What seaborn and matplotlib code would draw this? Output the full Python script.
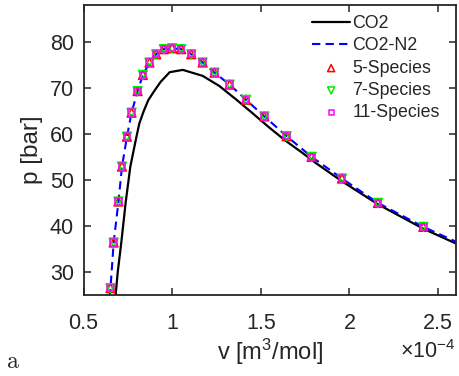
import matplotlib
matplotlib.use("Agg")
import matplotlib.pyplot as plt
import seaborn as sns
import pandas as pd

# ---- data (v in units of 1e-4 m^3/mol, p in bar) ----
v_co2 = [0.681, 0.693, 0.713, 0.738, 0.764, 0.798, 0.815, 0.839, 0.865, 0.897, 0.935,
         0.986, 1.060, 1.172, 1.266, 1.360, 1.453, 1.547, 1.640, 1.734, 1.809,
         1.958, 2.161, 2.417, 2.600]
p_co2 = [25.0, 30.0, 36.4, 45.2, 52.9, 59.3, 62.3, 64.9, 67.3, 69.2, 71.3,
         73.4, 73.9, 72.6, 70.4, 67.5, 64.5, 61.4, 58.5, 55.9, 53.7,
         49.7, 44.7, 39.4, 36.2]

v_mix = [0.646, 0.652, 0.670, 0.697, 0.717, 0.745, 0.771, 0.805, 0.835, 0.872, 0.910,
         0.953, 1.000, 1.051, 1.108, 1.172, 1.239, 1.324, 1.417, 1.520, 1.646,
         1.787, 1.958, 2.161, 2.417, 2.600]
p_mix = [24.5, 26.5, 36.4, 45.3, 52.9, 59.4, 64.6, 69.3, 72.8, 75.5, 77.3,
         78.4, 78.6, 78.4, 77.3, 75.5, 73.3, 70.7, 67.4, 63.8, 59.5,
         55.0, 50.3, 45.0, 39.8, 36.6]

v_species = [0.652, 0.670, 0.697, 0.717, 0.745, 0.771, 0.805, 0.835, 0.872, 0.910,
             0.953, 1.000, 1.051, 1.108, 1.172, 1.239, 1.324, 1.417, 1.520, 1.646,
             1.787, 1.958, 2.161, 2.417]
p_5sp = [26.5, 36.4, 45.3, 52.9, 59.4, 64.6, 69.3, 72.8, 75.5, 77.3,
         78.4, 78.6, 78.4, 77.3, 75.5, 73.3, 70.7, 67.4, 63.8, 59.5,
         55.0, 50.3, 45.0, 39.8]
p_7sp = [26.5, 36.4, 45.3, 52.9, 59.4, 64.6, 69.3, 72.8, 75.5, 77.3,
         78.4, 78.6, 78.4, 77.3, 75.5, 73.3, 70.7, 67.4, 63.8, 59.5,
         55.0, 50.3, 45.0, 39.8]
p_11sp = [26.5, 36.4, 45.3, 52.9, 59.4, 64.6, 69.3, 72.8, 75.5, 77.3,
          78.4, 78.6, 78.4, 77.3, 75.5, 73.3, 70.7, 67.4, 63.8, 59.5,
          55.0, 50.3, 45.0, 39.8]

x_ticks = [0.5, 1.0, 1.5, 2.0, 2.5]
x_ticklabels = ["0.5", "1", "1.5", "2", "2.5"]
y_ticks = [30, 40, 50, 60, 70, 80]

sns.set_style("ticks")
plt.rcParams["font.family"] = ["Liberation Sans", "DejaVu Sans"]
plt.rcParams["mathtext.fontset"] = "custom"
plt.rcParams["mathtext.rm"] = "Liberation Sans"
plt.rcParams["mathtext.it"] = "Liberation Sans:italic"

fig = plt.figure(figsize=(4.59, 3.76), dpi=100)
ax = fig.add_axes([0.182, 0.2154, 0.811, 0.7714])

df_co2 = pd.DataFrame({"v": v_co2, "p": p_co2})
df_mix = pd.DataFrame({"v": v_mix, "p": p_mix})

sns.lineplot(data=df_co2, x="v", y="p", ax=ax, color="black", lw=1.6,
             sort=False, label="CO2")
sns.lineplot(data=df_mix, x="v", y="p", ax=ax, color="#0000FF", lw=1.5,
             sort=False, label="CO2-N2")
ax.lines[-1].set_dashes([4, 2.5])

sns.scatterplot(x=v_species, y=p_5sp, ax=ax, marker="^", s=40,
                facecolor="none", edgecolor="#FF0000", linewidth=1.1,
                label="5-Species", zorder=3)
sns.scatterplot(x=v_species, y=p_7sp, ax=ax, marker="v", s=40,
                facecolor="none", edgecolor="#00EE00", linewidth=1.1,
                label="7-Species", zorder=3)
sns.scatterplot(x=v_species, y=p_11sp, ax=ax, marker="s", s=22,
                facecolor="none", edgecolor="#FF00FF", linewidth=1.1,
                label="11-Species", zorder=4)

ax.set_xlim(0.5, 2.6)
ax.set_ylim(25, 88)
ax.set_xticks(x_ticks)
ax.set_xticklabels(x_ticklabels)
ax.set_yticks(y_ticks)
ax.tick_params(direction="in", length=5, width=1.1, labelsize=15.5,
               top=True, right=True, colors="#262626", labelcolor="#262626")
ax.tick_params(axis="x", pad=13)
ax.tick_params(axis="y", pad=7)
for sp in ax.spines.values():
    sp.set_visible(True)
    sp.set_linewidth(1.3)
    sp.set_color("#262626")

ax.set_xlabel(r"v [m$^3$/mol]", fontsize=17, color="#262626", labelpad=2)
ax.set_ylabel("p [bar]", fontsize=17.5, color="#262626", labelpad=5)

leg = ax.legend(loc="upper left", bbox_to_anchor=(0.615, 0.965), frameon=False,
                fontsize=12.8, handlelength=2.1, handletextpad=0.15,
                labelspacing=0.3, borderpad=0, borderaxespad=0, markerscale=0.8)
for t in leg.get_texts():
    t.set_color("#262626")

fig.text(0.992, 0.066, r"$\times$10$^{-4}$", ha="right", va="center",
         fontsize=15.5, color="#262626")
fig.text(0.012, 0.008, r"$\mathrm{a}$", ha="left", va="bottom", fontsize=17,
         math_fontfamily="cm")

fig.savefig("out.png", dpi=100)
